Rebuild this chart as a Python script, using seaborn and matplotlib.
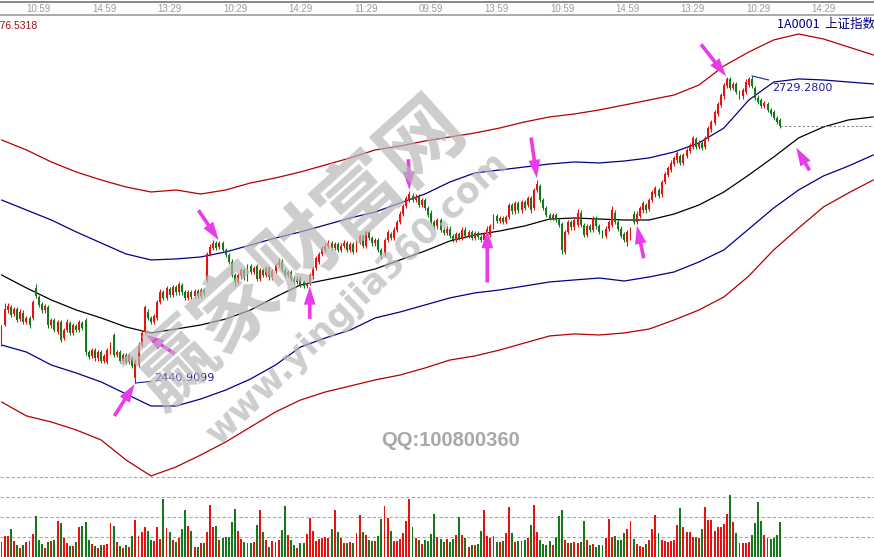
import matplotlib
matplotlib.use("Agg")
import matplotlib.pyplot as plt
import matplotlib.transforms as mtransforms
import seaborn as sns
import numpy as np
import pandas as pd

sns.set_theme(style="white")
plt.rcParams['font.family'] = ['DejaVu Sans', 'Noto Sans CJK SC']

# 30-minute candles of the Shanghai Composite (1A0001)
opens = [2479, 2495, 2509, 2512, 2506, 2510, 2501, 2507, 2498, 2502,
         2502, 2530, 2522, 2515, 2509, 2512, 2495, 2500, 2489, 2498,
         2483, 2491, 2497, 2488, 2494, 2491, 2497, 2500, 2470, 2466,
         2472, 2464, 2470, 2462, 2461, 2470, 2486, 2467, 2470, 2462,
         2467, 2461, 2464, 2446, 2458, 2477, 2489, 2508, 2502, 2498,
         2502, 2517, 2526, 2521, 2529, 2524, 2531, 2526, 2533, 2526,
         2521, 2526, 2523, 2527, 2523, 2528, 2538, 2562, 2568, 2572,
         2569, 2572, 2566, 2561, 2555, 2542, 2536, 2541, 2547, 2539,
         2551, 2545, 2551, 2539, 2547, 2542, 2549, 2540, 2546, 2552,
         2555, 2547, 2542, 2545, 2539, 2536, 2539, 2536, 2532, 2535,
         2541, 2549, 2555, 2562, 2566, 2570, 2572, 2568, 2571, 2566,
         2570, 2572, 2566, 2571, 2566, 2573, 2579, 2570, 2583, 2577,
         2572, 2575, 2566, 2562, 2575, 2581, 2577, 2585, 2592, 2600,
         2607, 2613, 2617, 2613, 2616, 2608, 2613, 2605, 2601, 2592,
         2588, 2594, 2585, 2582, 2586, 2579, 2575, 2581, 2577, 2585,
         2579, 2583, 2577, 2582, 2578, 2575, 2581, 2580, 2588, 2598,
         2593, 2596, 2592, 2597, 2608, 2602, 2610, 2603, 2611, 2608,
         2615, 2605, 2622, 2626, 2613, 2605, 2599, 2596, 2599, 2594,
         2590, 2564, 2583, 2592, 2587, 2589, 2601, 2589, 2580, 2588,
         2585, 2596, 2588, 2583, 2579, 2586, 2589, 2601, 2592, 2586,
         2581, 2573, 2577, 2600, 2592, 2598, 2603, 2608, 2604, 2613,
         2618, 2622, 2618, 2630, 2636, 2641, 2647, 2650, 2654, 2648,
         2654, 2659, 2663, 2670, 2663, 2666, 2663, 2670, 2679, 2685,
         2694, 2702, 2710, 2720, 2726, 2718, 2722, 2714, 2710, 2714,
         2721, 2726, 2718, 2709, 2707, 2701, 2703, 2697, 2695, 2690,
         2688]
closes = [2493, 2510, 2513, 2505, 2510, 2500, 2508, 2498, 2502, 2495,
          2517, 2523, 2514, 2509, 2513, 2495, 2500, 2491, 2498, 2481,
          2491, 2498, 2488, 2495, 2491, 2498, 2493, 2470, 2465, 2472,
          2464, 2470, 2462, 2466, 2472, 2477, 2467, 2470, 2462, 2467,
          2461, 2467, 2457, 2461, 2477, 2488, 2512, 2502, 2498, 2504,
          2517, 2526, 2521, 2530, 2524, 2531, 2526, 2534, 2526, 2521,
          2526, 2522, 2527, 2523, 2528, 2525, 2562, 2569, 2572, 2568,
          2572, 2566, 2561, 2555, 2542, 2536, 2542, 2547, 2540, 2551,
          2545, 2549, 2539, 2547, 2542, 2549, 2540, 2546, 2552, 2555,
          2547, 2542, 2545, 2539, 2536, 2539, 2533, 2532, 2535, 2542,
          2549, 2558, 2562, 2568, 2570, 2572, 2568, 2571, 2566, 2570,
          2572, 2566, 2571, 2564, 2573, 2579, 2570, 2583, 2577, 2572,
          2575, 2566, 2560, 2575, 2583, 2577, 2585, 2592, 2600, 2607,
          2615, 2618, 2613, 2616, 2608, 2613, 2605, 2599, 2592, 2588,
          2594, 2585, 2582, 2586, 2579, 2575, 2581, 2577, 2585, 2579,
          2583, 2577, 2582, 2578, 2575, 2581, 2586, 2588, 2598, 2593,
          2596, 2592, 2597, 2608, 2602, 2610, 2603, 2611, 2605, 2615,
          2603, 2622, 2628, 2613, 2605, 2599, 2596, 2599, 2594, 2589,
          2566, 2583, 2592, 2587, 2594, 2601, 2589, 2580, 2588, 2585,
          2596, 2588, 2583, 2579, 2586, 2592, 2603, 2592, 2586, 2579,
          2575, 2583, 2585, 2592, 2600, 2605, 2610, 2603, 2613, 2620,
          2624, 2617, 2630, 2637, 2643, 2648, 2652, 2657, 2648, 2655,
          2660, 2664, 2671, 2663, 2667, 2662, 2671, 2680, 2686, 2695,
          2703, 2711, 2721, 2726, 2718, 2722, 2714, 2710, 2716, 2724,
          2726, 2720, 2709, 2705, 2701, 2704, 2697, 2694, 2690, 2686,
          2682]
highs = [2495, 2516, 2516, 2514, 2512, 2512, 2510, 2509, 2504, 2504,
         2519, 2534, 2524, 2517, 2515, 2514, 2502, 2502, 2500, 2500,
         2493, 2501, 2499, 2497, 2496, 2500, 2499, 2502, 2472, 2474,
         2474, 2472, 2472, 2468, 2474, 2479, 2488, 2472, 2472, 2469,
         2469, 2469, 2466, 2463, 2479, 2490, 2514, 2510, 2504, 2506,
         2519, 2529, 2528, 2532, 2531, 2533, 2533, 2536, 2535, 2528,
         2528, 2528, 2529, 2529, 2530, 2530, 2564, 2571, 2575, 2574,
         2574, 2574, 2568, 2563, 2557, 2544, 2544, 2549, 2549, 2553,
         2553, 2551, 2553, 2549, 2549, 2551, 2551, 2548, 2554, 2558,
         2557, 2549, 2547, 2547, 2541, 2541, 2541, 2538, 2537, 2544,
         2551, 2560, 2564, 2570, 2572, 2575, 2574, 2573, 2573, 2572,
         2575, 2574, 2573, 2573, 2575, 2581, 2581, 2585, 2585, 2579,
         2577, 2577, 2568, 2577, 2585, 2583, 2587, 2594, 2602, 2609,
         2617, 2621, 2619, 2618, 2618, 2615, 2615, 2607, 2603, 2594,
         2596, 2596, 2587, 2588, 2588, 2581, 2583, 2583, 2587, 2587,
         2585, 2585, 2584, 2584, 2580, 2583, 2588, 2590, 2600, 2600,
         2598, 2598, 2599, 2610, 2610, 2612, 2612, 2613, 2613, 2617,
         2617, 2624, 2632, 2628, 2615, 2607, 2601, 2601, 2601, 2596,
         2592, 2585, 2594, 2594, 2596, 2604, 2603, 2591, 2590, 2590,
         2598, 2598, 2590, 2585, 2588, 2594, 2607, 2603, 2594, 2588,
         2583, 2585, 2587, 2602, 2602, 2607, 2612, 2610, 2615, 2622,
         2626, 2624, 2632, 2639, 2645, 2650, 2654, 2659, 2656, 2657,
         2662, 2666, 2673, 2672, 2669, 2668, 2673, 2682, 2688, 2697,
         2705, 2713, 2723, 2728, 2728, 2724, 2724, 2716, 2718, 2726,
         2728, 2729.28, 2720, 2711, 2709, 2706, 2705, 2699, 2697, 2692,
         2690]
lows = [2476, 2494, 2507, 2503, 2504, 2498, 2499, 2496, 2496, 2493,
        2500, 2521, 2512, 2507, 2507, 2493, 2493, 2489, 2487, 2479,
        2481, 2489, 2486, 2486, 2489, 2489, 2491, 2467, 2463, 2464,
        2462, 2462, 2460, 2460, 2459, 2468, 2465, 2465, 2460, 2460,
        2459, 2459, 2455, 2440.9099, 2456, 2475, 2487, 2500, 2496, 2496,
        2500, 2515, 2519, 2519, 2522, 2522, 2524, 2524, 2524, 2519,
        2519, 2520, 2521, 2521, 2521, 2523, 2536, 2560, 2566, 2566,
        2567, 2564, 2559, 2553, 2540, 2532, 2534, 2539, 2538, 2537,
        2543, 2543, 2537, 2537, 2540, 2540, 2538, 2538, 2544, 2550,
        2545, 2540, 2540, 2537, 2534, 2534, 2531, 2530, 2530, 2533,
        2539, 2547, 2553, 2560, 2564, 2568, 2566, 2566, 2564, 2564,
        2568, 2564, 2564, 2562, 2564, 2571, 2568, 2568, 2575, 2570,
        2570, 2564, 2557, 2560, 2573, 2575, 2575, 2583, 2590, 2598,
        2605, 2611, 2611, 2611, 2606, 2606, 2603, 2597, 2590, 2586,
        2586, 2583, 2580, 2580, 2577, 2573, 2573, 2575, 2575, 2577,
        2577, 2575, 2575, 2576, 2573, 2573, 2575, 2578, 2586, 2591,
        2591, 2590, 2590, 2595, 2600, 2600, 2601, 2601, 2603, 2606,
        2601, 2603, 2620, 2611, 2603, 2597, 2594, 2594, 2592, 2587,
        2562, 2562, 2581, 2585, 2585, 2587, 2587, 2578, 2578, 2583,
        2583, 2586, 2581, 2577, 2577, 2584, 2587, 2590, 2584, 2577,
        2573, 2570, 2575, 2590, 2590, 2596, 2601, 2601, 2602, 2611,
        2616, 2615, 2616, 2628, 2634, 2639, 2645, 2648, 2646, 2646,
        2652, 2657, 2661, 2661, 2661, 2660, 2661, 2668, 2677, 2683,
        2692, 2700, 2708, 2718, 2716, 2716, 2712, 2708, 2708, 2712,
        2719, 2718, 2707, 2703, 2699, 2699, 2695, 2692, 2688, 2684,
        2680]
volumes = [0.77, 1.05, 1.05, 1.4, 0.8, 0.6, 0.45, 0.6, 0.75, 0.8,
           1.15, 2.05, 0.85, 0.65, 0.45, 0.75, 0.8, 0.85, 1.8, 1.72,
           0.95, 0.7, 0.55, 0.55, 0.75, 1.5, 1.55, 1.75, 0.85, 0.65,
           0.55, 0.45, 0.6, 0.6, 0.65, 1.72, 1.55, 0.75, 0.55, 0.45,
           0.6, 0.5, 1.05, 1.85, 1.05, 1.27, 1.5, 1.3, 0.85, 0.8,
           1.5, 0.9, 2.88, 1.45, 1.27, 0.85, 0.75, 0.95, 1.4, 2.35,
           1.55, 1.3, 0.5, 0.5, 0.7, 0.72, 1.25, 2.6, 1.5, 1.55,
           0.85, 0.95, 1.0, 0.98, 1.75, 2.4, 1.3, 0.9, 0.75, 0.68,
           0.68, 0.75, 1.6, 2.35, 1.27, 0.85, 0.5, 0.8, 0.75, 0.85,
           1.35, 2.55, 1.1, 0.85, 0.6, 0.45, 0.7, 0.7, 1.15, 1.95,
           1.3, 0.8, 0.9, 0.95, 1.0, 0.95, 1.4, 2.35, 1.25, 0.95,
           0.7, 0.7, 0.75, 0.7, 1.2, 2.1, 1.25, 1.1, 0.85, 0.8,
           0.8, 1.05, 1.9, 2.55, 1.95, 1.3, 0.8, 0.8, 0.9, 1.2,
           1.8, 2.88, 1.5, 0.95, 0.85, 0.65, 0.85, 0.8, 1.15, 2.15,
           1.0, 0.9, 0.75, 0.9, 0.75, 0.9, 1.1, 1.98, 1.1, 0.95,
           0.5, 0.6, 0.6, 0.65, 1.3, 2.35, 1.05, 0.95, 1.05, 0.75,
           0.75, 0.8, 1.2, 2.52, 1.2, 0.75, 0.8, 0.8, 0.85, 0.95,
           1.6, 2.6, 1.25, 0.85, 0.65, 0.6, 0.8, 0.6, 1.0, 2.05,
           2.35, 0.85, 0.7, 0.7, 0.75, 0.72, 0.75, 1.8, 0.85, 0.6,
           0.65, 0.5, 0.6, 0.6, 0.95, 1.9, 1.0, 1.05, 0.85, 0.85,
           1.2, 1.4, 1.8, 0.9, 0.65, 0.55, 0.5, 0.65, 0.85, 1.4,
           2.1, 1.2, 0.85, 0.8, 0.75, 0.78, 0.85, 1.6, 2.43, 1.5,
           1.25, 1.25, 1.0, 1.0, 0.95, 1.4, 2.52, 1.85, 1.85, 1.3,
           1.5, 1.5, 1.65, 2.15, 3.1, 1.75, 1.2, 0.7, 0.7, 0.7,
           0.75, 1.1, 1.72, 2.75, 1.8, 1.1, 0.95, 0.9, 0.95, 1.1,
           1.75]

# band lines, sampled every 8 bars (they run past the last candle)
band_idx = [0, 8, 16, 24, 32, 40, 48, 56, 64, 72, 80, 88, 96, 104, 112, 120, 128, 136,
            144, 152, 160, 168, 176, 184, 192, 200, 208, 216, 224, 232, 240, 248, 256, 264, 272, 280]
outer_up = [2669.2, 2659.8, 2648.5, 2639.1, 2631.6, 2625.0, 2620.3, 2622.2, 2618.4, 2622.2,
            2628.8, 2633.5, 2639.1, 2645.7, 2652.3, 2659.8, 2663.5, 2668.2, 2672.0, 2675.7,
            2680.4, 2686.1, 2690.8, 2693.6, 2697.4, 2702.0, 2706.7, 2711.4, 2720.8, 2738.7,
            2751.8, 2763.1, 2768.7, 2764.0, 2756.5, 2749.0]
inner_up = [2612.8, 2603.4, 2594.0, 2582.8, 2572.4, 2562.1, 2556.5, 2557.4, 2559.3, 2564.0,
            2570.5, 2577.1, 2582.8, 2589.3, 2595.9, 2601.5, 2610.0, 2618.4, 2629.7, 2638.2,
            2641.0, 2643.8, 2646.6, 2648.5, 2647.6, 2649.4, 2652.3, 2657.9, 2666.4, 2680.4,
            2706.7, 2723.6, 2726.5, 2725.5, 2723.6, 2721.8]
mid_line = [2542.4, 2530.2, 2518.9, 2509.5, 2502.0, 2493.5, 2487.9, 2491.6, 2495.4, 2501.0,
            2509.5, 2521.7, 2533.0, 2537.7, 2542.4, 2548.0, 2556.5, 2564.9, 2574.3, 2579.9,
            2583.7, 2588.4, 2594.9, 2595.9, 2594.9, 2594.0, 2594.0, 2599.6, 2608.1, 2620.3,
            2636.3, 2653.2, 2671.1, 2681.4, 2688.0, 2690.8]
inner_dn = [2476.6, 2470.0, 2457.8, 2450.3, 2441.9, 2430.6, 2419.3, 2419.3, 2425.9, 2434.3,
            2444.7, 2457.8, 2474.7, 2483.2, 2490.7, 2502.0, 2507.6, 2514.2, 2520.8, 2525.5,
            2528.3, 2532.0, 2535.8, 2537.7, 2539.5, 2536.7, 2540.5, 2545.2, 2554.6, 2565.9,
            2585.6, 2605.3, 2622.2, 2635.4, 2644.7, 2655.1]
outer_dn = [2423.1, 2410.0, 2404.3, 2396.8, 2387.4, 2368.6, 2353.6, 2362.0, 2373.3, 2385.5,
            2399.6, 2413.7, 2424.9, 2432.5, 2438.1, 2443.8, 2448.4, 2455.0, 2462.5, 2466.3,
            2471.9, 2478.5, 2485.1, 2487.0, 2486.0, 2487.9, 2491.6, 2500.1, 2509.5, 2521.7,
            2541.4, 2565.9, 2586.5, 2606.3, 2619.4, 2631.6]

time_pos = [12, 33, 54, 75, 96, 117, 138, 159, 180, 201, 222, 243, 264]
time_labels = ['10:59', '14:59', '13:29', '10:29', '14:29', '11:29', '09:59',
               '13:59', '10:59', '14:59', '13:29', '10:29', '14:29']
top_value = 2776.5318

for arr in (opens, closes, highs, lows, volumes):
    assert len(arr) == 251, len(arr)

RED = '#e3140f'
GREEN = '#13791a'
BLUE = '#00008c'
DARKRED = '#b40000'
MAG = '#e83ce8'

df = pd.DataFrame({'open': opens, 'close': closes, 'high': highs, 'low': lows, 'vol': volumes})
df['i'] = np.arange(len(df))
colors = np.where(df['close'] >= df['open'], RED, GREEN)

W, H = 874, 557
fig = plt.figure(figsize=(W / 100, H / 100), dpi=100)


def box(top_px, bottom_px):
    return [0, 1 - bottom_px / H, 1, (bottom_px - top_px) / H]


ax_vol = fig.add_axes(box(476, 557))
ax = fig.add_axes(box(16, 480))
ax_top = fig.add_axes(box(2, 15))
xlim = (-0.48, 280.2)
for a in (ax, ax_vol, ax_top):
    a.set_xlim(*xlim)
    a.set_xticks([])
    a.set_yticks([])
    a.set_facecolor('none')
    for s in a.spines.values():
        s.set_visible(False)

# price panel
ax.set_ylim(2349.8, 2785.6)
ax.vlines(df['i'], df['low'], df['high'], colors=colors, lw=0.8, zorder=3)
body = (df['close'] - df['open']).abs().clip(lower=0.9)
ax.bar(df['i'], body, bottom=np.minimum(df['open'], df['close']), width=0.62,
       color=colors, linewidth=0, zorder=3)

for vals, c in [(outer_up, DARKRED), (inner_up, BLUE), (mid_line, 'black'),
                (inner_dn, BLUE), (outer_dn, DARKRED)]:
    sns.lineplot(x=band_idx, y=vals, ax=ax, color=c, lw=0.9, estimator=None,
                 sort=False, legend=False, zorder=2)

ax.plot([df['i'].iloc[-1], xlim[1]], [closes[-1]] * 2, ls=(0, (2, 2)), color='#8c8c8c', lw=0.8)

# min / max labels
lo_i = int(df['low'].idxmin())
hi_i = int(df['high'].idxmax())
ax.annotate(f"{df['low'].min():.4f}", xy=(lo_i, df['low'].min()), xytext=(19, 5),
            textcoords='offset pixels', ha='left', va='center', color='#1c1c9c', fontsize=8,
            arrowprops=dict(arrowstyle='-', color='#1c1c9c', lw=0.8, shrinkA=0, shrinkB=0))
ax.annotate(f"{df['high'].max():.4f}", xy=(hi_i, df['high'].max()), xytext=(20, -12),
            textcoords='offset pixels', ha='left', va='center', color='#1c1c9c', fontsize=8,
            arrowprops=dict(arrowstyle='-', color='#1c1c9c', lw=0.8, shrinkA=0, shrinkB=0))

trans = mtransforms.blended_transform_factory(ax.transAxes, ax.transData)
ax.text(38 / W, top_value, f"{top_value:.4f}", transform=trans, ha='right', va='center',
        color='#a01010', fontsize=7.5, family='Liberation Sans')

# magenta arrows: (bar, price field, tail offset in pixels)
arrow_style = dict(arrowstyle='simple,head_length=1.1,head_width=0.7,tail_width=0.22',
                   mutation_scale=12, fc=MAG, ec='none', lw=0, shrinkA=0, shrinkB=1)
arrows = [(70, 'high', (-21, 31)), (46, 'low', (30, -20)), (43, 'low', (-21, -33)),
          (99, 'low', (0, -34)), (131, 'high', (-1, 32)), (156, 'close', (0, -54)),
          (172, 'high', (-6, 42)), (204, 'low', (7, -34)), (233, 'high', (-26, 33))]
for bar, field, off in arrows:
    ax.annotate('', xy=(bar, df.loc[bar, field]), xytext=off, textcoords='offset pixels',
                arrowprops=arrow_style, zorder=6)
ax.annotate('', xy=(band_idx[32] - 1, mid_line[32] - 8), xytext=(14, -24), textcoords='offset pixels',
            arrowprops=arrow_style, zorder=6)

# volume panel
ax_vol.set_ylim(0, 4.05)
ax_vol.bar(df['i'], df['vol'], width=0.62, color=colors, linewidth=0)
for g in [1, 2, 3, 4]:
    ax_vol.axhline(g, color='#a8a8a8', lw=0.8, ls=(0, (3, 2)), zorder=0)

# time strip
ax_top.spines['top'].set_visible(True)
ax_top.spines['bottom'].set_visible(True)
ax_top.spines['top'].set_color('#7a7a7a')
ax_top.spines['bottom'].set_color('#a0a0a0')
ax_top.set_facecolor('white')
ttrans = mtransforms.blended_transform_factory(ax_top.transData, ax_top.transAxes)
for p, lab in zip(time_pos, time_labels):
    ax_top.text(p, 0.45, lab, transform=ttrans, ha='center', va='center',
                color='#9a9a9a', fontsize=7, family='Liberation Sans')

fig.text(875 / W, 1 - 24 / H, '1A0001  上证指数', ha='right', va='center', color='#000080',
         fontsize=9, family='Noto Sans CJK SC')

# watermark
fig.text(300 / W, 1 - 255 / H, '赢家财富网', rotation=42, rotation_mode='anchor',
         ha='center', va='center', fontsize=60, fontweight='bold', color='#b8b8b8', alpha=0.7,
         family='Noto Sans CJK SC', zorder=10)
fig.text(358 / W, 1 - 298 / H, 'www.yingjia360.com', rotation=44, rotation_mode='anchor',
         ha='center', va='center', fontsize=25, fontweight='bold', color='#b8b8b8', alpha=0.7,
         zorder=10)
fig.text(451 / W, 1 - 441 / H, 'QQ:100800360', ha='center', va='center', fontsize=14.5,
         fontweight='bold', color='#a8a8a8', family='Liberation Sans', zorder=10)

fig.savefig('out.png', dpi=100, facecolor='white')
